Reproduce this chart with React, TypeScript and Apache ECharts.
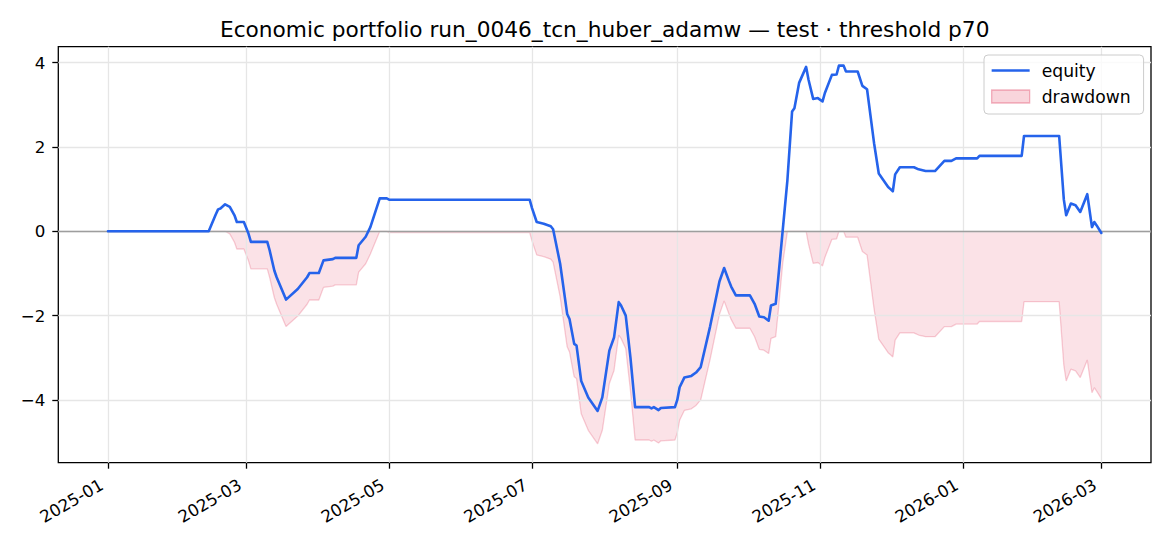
import React, { useEffect, useRef } from "react";
import * as echarts from "echarts";

const TITLE = "Economic portfolio run_0046_tcn_huber_adamw — test · threshold p70";
const FONT = "DejaVu Sans";

const dates = [
  "2025-01-01", "2025-02-13", "2025-02-16", "2025-02-17", "2025-02-18", "2025-02-20",
  "2025-02-22", "2025-02-24", "2025-02-25", "2025-02-28", "2025-03-02", "2025-03-03",
  "2025-03-10", "2025-03-11", "2025-03-13", "2025-03-14", "2025-03-18", "2025-03-23",
  "2025-03-27", "2025-03-28", "2025-04-01", "2025-04-03", "2025-04-07", "2025-04-08",
  "2025-04-17", "2025-04-18", "2025-04-21", "2025-04-23", "2025-04-27", "2025-04-30",
  "2025-05-01", "2025-06-30", "2025-07-01", "2025-07-03", "2025-07-06", "2025-07-09",
  "2025-07-10", "2025-07-13", "2025-07-16", "2025-07-17", "2025-07-19", "2025-07-20",
  "2025-07-22", "2025-07-25", "2025-07-29", "2025-07-31", "2025-08-03", "2025-08-05",
  "2025-08-07", "2025-08-08", "2025-08-10", "2025-08-12", "2025-08-14", "2025-08-20",
  "2025-08-21", "2025-08-22", "2025-08-24", "2025-08-25", "2025-08-31", "2025-09-01",
  "2025-09-02", "2025-09-04", "2025-09-07", "2025-09-09", "2025-09-11", "2025-09-15",
  "2025-09-19", "2025-09-21", "2025-09-23", "2025-09-24", "2025-09-26", "2025-10-02",
  "2025-10-04", "2025-10-06", "2025-10-08", "2025-10-10", "2025-10-11", "2025-10-13",
  "2025-10-14", "2025-10-16", "2025-10-18", "2025-10-20", "2025-10-21", "2025-10-23",
  "2025-10-26", "2025-10-27", "2025-10-29", "2025-10-31", "2025-11-02", "2025-11-03",
  "2025-11-06", "2025-11-08", "2025-11-09", "2025-11-11", "2025-11-12", "2025-11-17",
  "2025-11-19", "2025-11-21", "2025-11-24", "2025-11-26", "2025-11-28", "2025-11-30",
  "2025-12-01", "2025-12-02", "2025-12-03", "2025-12-05", "2025-12-11", "2025-12-13",
  "2025-12-16", "2025-12-20", "2025-12-24", "2025-12-27", "2025-12-29", "2026-01-07",
  "2026-01-08", "2026-01-26", "2026-01-27", "2026-02-11", "2026-02-13", "2026-02-14",
  "2026-02-16", "2026-02-18", "2026-02-20", "2026-02-23", "2026-02-25", "2026-02-26",
  "2026-02-27", "2026-03-01",
];

const equity = [
  0, 0, 0.4, 0.52, 0.54, 0.64,
  0.58, 0.38, 0.22, 0.22, -0.06, -0.25,
  -0.25, -0.45, -0.93, -1.09, -1.62, -1.37,
  -1.09, -0.99, -0.99, -0.69, -0.66, -0.63,
  -0.63, -0.33, -0.13, 0.1, 0.78, 0.78,
  0.75, 0.75, 0.55, 0.22, 0.18, 0.12,
  0.05, -0.77, -1.96, -2.08, -2.67, -2.71,
  -3.55, -3.94, -4.26, -3.94, -2.83, -2.52,
  -1.68, -1.76, -2.0, -2.99, -4.17, -4.17,
  -4.2, -4.17, -4.24, -4.19, -4.17, -4.0,
  -3.7, -3.47, -3.43, -3.35, -3.22, -2.26,
  -1.19, -0.87, -1.17, -1.31, -1.52, -1.52,
  -1.72, -2.02, -2.04, -2.12, -1.76, -1.72,
  -1.17, 0.02, 1.21, 2.84, 2.92, 3.52,
  3.9, 3.6, 3.14, 3.16, 3.08, 3.28,
  3.71, 3.72, 3.93, 3.93, 3.79, 3.79,
  3.45, 3.37, 2.09, 1.37, 1.21, 1.05,
  1.0, 0.95, 1.35, 1.52, 1.52, 1.47,
  1.43, 1.43, 1.67, 1.67, 1.73, 1.73,
  1.79, 1.79, 2.26, 2.26, 0.75, 0.38,
  0.66, 0.62, 0.46, 0.88, 0.1, 0.22,
  0.14, -0.04,
];

const xTickDates = ["2025-01", "2025-03", "2025-05", "2025-07", "2025-09", "2025-11", "2026-01", "2026-03"];
const yTicks = [-4, -2, 0, 2, 4];

function toTs(s: string): number {
  const p = s.split("-").map(Number);
  return new Date(p[0], p[1] - 1, p[2] || 1).getTime();
}

export default function App() {
  const ref = useRef<HTMLDivElement>(null);

  useEffect(() => {
    document.body.style.margin = "0";
    if (!ref.current) return;
    const chart = echarts.init(ref.current, null, { renderer: "svg" });

    const xs = dates.map(toTs);
    let peak = -Infinity;
    const drawdown = equity.map((v) => {
      peak = Math.max(peak, v);
      return +(v - peak).toFixed(4);
    });

    const xMinData = xs[0];
    const xMaxData = xs[xs.length - 1];
    const xPad = (xMaxData - xMinData) * 0.05;
    const allY = equity.concat(drawdown);
    const yMinData = Math.min(...allY);
    const yMaxData = Math.max(...allY);
    const yPad = (yMaxData - yMinData) * 0.05;

    const xTicks = xTickDates.map(toTs);

    const gridLineStyle = { color: "#e6e6e6", width: 1.3, type: "solid" as const };

    const option: any = {
      animation: false,
      backgroundColor: "#ffffff",
      textStyle: { fontFamily: FONT },
      title: {
        text: TITLE,
        left: 604.7,
        top: 18.5,
        textAlign: "center",
        padding: 0,
        textStyle: { fontFamily: FONT, fontSize: 21.7, fontWeight: "normal", color: "#000" },
      },
      legend: {
        left: 984,
        top: 55,
        orient: "vertical",
        padding: [7, 13, 9, 7],
        itemWidth: 38,
        itemHeight: 13,
        itemGap: 9,
        selectedMode: false,
        symbolKeepAspect: true,
        backgroundColor: "rgba(255,255,255,0.8)",
        borderColor: "#cccccc",
        borderWidth: 1,
        borderRadius: 4,
        textStyle: { fontFamily: FONT, fontSize: 17.2, color: "#000", padding: [0, 0, 0, 7] },
        data: [
          {
            name: "equity",
            icon: "path://M0,0H38V2.5H0Z",
            itemStyle: { color: "#2563eb" },
          },
          {
            name: "drawdown",
            icon: "rect",
            itemStyle: {
              color: "rgba(220,20,60,0.18)",
              borderColor: "rgba(220,20,60,0.3)",
              borderWidth: 1.3,
            },
          },
        ],
      },
      grid: {
        left: 58.3,
        right: 19,
        top: 46.7,
        bottom: 83.3,
        show: true,
        borderColor: "#000",
        borderWidth: 1.3,
        backgroundColor: "transparent",
      },
      xAxis: {
        type: "value",
        min: xMinData - xPad,
        max: xMaxData + xPad,
        axisLine: { show: false, onZero: false },
        splitLine: { show: false },
        axisTick: {
          show: true,
          length: 6,
          inside: false,
          customValues: xTicks,
          lineStyle: { color: "#000", width: 1.3 },
        },
        axisLabel: {
          customValues: xTicks,
          rotate: 30,
          margin: 17.5,
          padding: [0, 7, 0, 0],
          fontFamily: FONT,
          fontSize: 16.7,
          color: "#000",
          formatter: (v: number) => {
            const d = new Date(v);
            const m = d.getMonth() + 1;
            return d.getFullYear() + "-" + (m < 10 ? "0" + m : String(m));
          },
        },
      },
      yAxis: {
        type: "value",
        min: yMinData - yPad,
        max: yMaxData + yPad,
        axisLine: { show: false },
        splitLine: { show: false },
        axisTick: {
          show: true,
          length: 6,
          inside: false,
          customValues: yTicks,
          lineStyle: { color: "#000", width: 1.3 },
        },
        axisLabel: {
          customValues: yTicks,
          margin: 13,
          fontFamily: FONT,
          fontSize: 16.7,
          color: "#000",
          formatter: (v: number) => (v < 0 ? "\u2212" + Math.abs(v) : String(v)),
        },
      },
      series: [
        {
          name: "drawdown",
          type: "line",
          z: 1,
          data: xs.map((x, i) => [x, drawdown[i]]),
          symbol: "none",
          silent: true,
          lineStyle: { color: "rgba(220,20,60,0.2)", width: 1.3 },
          itemStyle: { color: "rgba(220,20,60,0.18)" },
          areaStyle: { color: "rgba(220,20,60,0.18)", origin: "auto" },
          markLine: {
            z: 1.5,
            silent: true,
            symbol: ["none", "none"],
            label: { show: false },
            lineStyle: gridLineStyle,
            emphasis: { disabled: true },
            data: [
              ...xTicks.map((t) => ({ xAxis: t })),
              ...yTicks.map((v) => ({ yAxis: v })),
            ],
          },
        },
        {
          name: "equity",
          type: "line",
          z: 3,
          data: xs.map((x, i) => [x, equity[i]]),
          symbol: "none",
          silent: true,
          lineStyle: { color: "#2563eb", width: 2.6, join: "round", cap: "round" },
          itemStyle: { color: "#2563eb" },
          markLine: {
            z: 2,
            silent: true,
            symbol: ["none", "none"],
            label: { show: false },
            lineStyle: { color: "#9e9e9e", width: 1.3, type: "solid" },
            emphasis: { disabled: true },
            data: [{ yAxis: 0 }],
          },
        },
      ],
    };

    chart.setOption(option);
    return () => chart.dispose();
  }, []);

  return <div ref={ref} style={{ width: 1170, height: 546 }} />;
}
